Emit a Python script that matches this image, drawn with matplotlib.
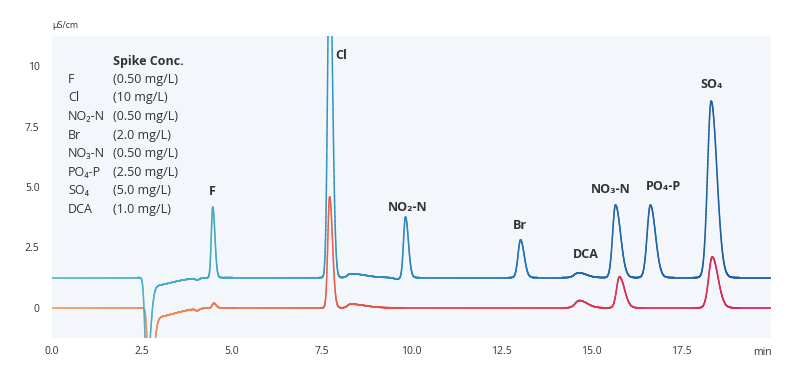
import numpy as np
import matplotlib
matplotlib.use("Agg")
import matplotlib.pyplot as plt
from matplotlib.collections import LineCollection
from matplotlib.colors import LinearSegmentedColormap

plt.rcParams['font.family'] = ['Open Sans', 'DejaVu Sans']

# ---- data ----
ions = ["F", "Cl", "NO\u2082-N", "Br", "DCA", "NO\u2083-N", "PO\u2084-P", "SO\u2084"]
spike_conc = ["(0.50 mg/L)", "(10 mg/L)", "(0.50 mg/L)", "(2.0 mg/L)",
              "(0.50 mg/L)", "(2.50 mg/L)", "(5.0 mg/L)", "(1.0 mg/L)"]
legend_names = ["F", "Cl", "NO\u2082-N", "Br", "NO\u2083-N", "PO\u2084-P", "SO\u2084", "DCA"]

# spiked sample (upper trace): baseline and peak table
spiked_baseline = 1.25
spiked_rt     = [2.63, 2.70, 4.03, 4.47, 7.72, 8.30, 9.60, 9.83, 13.03, 14.64, 15.67, 16.64, 18.33]
spiked_height = [-3.6, -0.35, -0.08, 2.92, 14.0, 0.16, -0.06, 2.51, 1.56, 0.20, 3.00, 3.00, 7.30]
spiked_sig_l  = [0.05, 0.06, 0.04, 0.04, 0.055, 0.08, 0.10, 0.055, 0.07, 0.11, 0.08, 0.09, 0.10]
spiked_sig_r  = [0.10, 0.60, 0.06, 0.06, 0.08, 0.40, 0.10, 0.08, 0.10, 0.22, 0.14, 0.14, 0.16]

# blank sample (lower trace)
blank_baseline = 0.0
blank_rt     = [2.71, 2.78, 4.03, 4.50, 7.72, 8.30, 14.66, 15.78, 18.36]
blank_height = [-3.6, -0.40, -0.08, 0.20, 4.59, 0.15, 0.30, 1.28, 2.10]
blank_sig_l  = [0.05, 0.06, 0.04, 0.045, 0.05, 0.08, 0.11, 0.08, 0.10]
blank_sig_r  = [0.10, 0.60, 0.06, 0.06, 0.08, 0.40, 0.22, 0.14, 0.16]

# peak label anchors (time, signal)
label_time   = [4.47, 8.05, 9.9, 13.0, 14.85, 15.55, 17.0, 18.35]
label_signal = [4.80, 10.45, 4.16, 3.41, 2.20, 4.88, 5.0, 9.25]

x_ticks = [0.0, 2.5, 5.0, 7.5, 10.0, 12.5, 15.0, 17.5]
x_tick_labels = ["0.0", "2.5", "5.0", "7.5", "10.0", "12.5", "15.0", "17.5"]
y_ticks = [0, 2.5, 5.0, 7.5, 10]
y_tick_labels = ["0", "2.5", "5.0", "7.5", "10"]


def trace(t, base, rt, h, sl, sr):
    y = np.full_like(t, base)
    for r, a, s1, s2 in zip(rt, h, sl, sr):
        s = np.where(t < r, s1, s2)
        y += a * np.exp(-0.5 * ((t - r) / s) ** 2)
    return y


def grad_line(ax, t, y, colors, lw=1.1):
    pts = np.column_stack([t, y]).reshape(-1, 1, 2)
    segs = np.concatenate([pts[:-1], pts[1:]], axis=1)
    cmap = LinearSegmentedColormap.from_list("g", colors)
    lc = LineCollection(segs, cmap=cmap, linewidth=lw, capstyle="round", joinstyle="round")
    lc.set_array((t[:-1] + t[1:]) / 2)
    lc.set_clim(0, 20)
    ax.add_collection(lc)


t = np.linspace(0, 20, 6000)
y_spiked = trace(t, spiked_baseline, spiked_rt, spiked_height, spiked_sig_l, spiked_sig_r)
y_blank = trace(t, blank_baseline, blank_rt, blank_height, blank_sig_l, blank_sig_r)

fig = plt.figure(figsize=(8, 3.74), dpi=100)
ax = fig.add_axes([0.065, 0.0963, 0.899, 0.8074])
ax.set_facecolor("#f3f7fb")
for sp in ax.spines.values():
    sp.set_visible(False)

grad_line(ax, t, y_blank, ["#f0a262", "#ea7a50", "#e24a48", "#dc3850", "#d42858"])
grad_line(ax, t, y_spiked, ["#5ebdc8", "#3ea6c4", "#2e86bc", "#2468ac", "#1f5a9e"])

ax.set_xlim(0, 20)
ax.set_ylim(-1.25, 11.25)
txt = "#333333"
ax.set_xticks(x_ticks)
ax.set_xticklabels(x_tick_labels)
ax.set_yticks(y_ticks)
ax.set_yticklabels(y_tick_labels)
ax.tick_params(length=0, labelsize=7.5, colors=txt, pad=6)
ax.tick_params(axis="y", pad=9)
ax.text(19.77, -1.64, "min", fontsize=7.5, color=txt, ha="center", va="top")
ax.text(0, 11.7, "\u00b5S/cm", fontsize=6.5, color=txt, ha="left", va="center",
        clip_on=False)

# peak labels
for name, lt, ls in zip(ions, label_time, label_signal):
    ax.text(lt, ls, name, fontsize=9, fontweight="bold", color="#333333",
            ha="center", va="center")

# spike concentration table
ax.text(1.7, 10.2, "Spike Conc.", fontsize=9, fontweight="bold", color=txt,
        ha="left", va="center")
for i, (n, c) in enumerate(zip(legend_names, spike_conc)):
    yy = 9.46 - i * 0.77
    ax.text(0.45, yy, n, fontsize=9, color=txt, ha="left", va="center")
    ax.text(1.7, yy, c, fontsize=9, color=txt, ha="left", va="center")

fig.savefig("out.png", dpi=100, facecolor="white")
